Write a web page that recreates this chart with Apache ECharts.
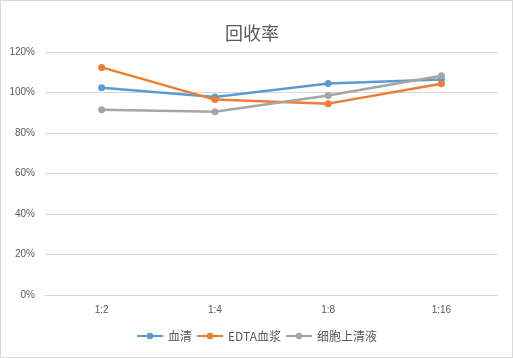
<!DOCTYPE html>
<html><head><meta charset="utf-8">
<script src="https://cdn.jsdelivr.net/npm/echarts@6/dist/echarts.min.js"></script>
<style>html,body{margin:0;padding:0;background:#fff}#c{width:511px;height:356px;border:1px solid #d9d9d9}</style>
</head><body><div id="c"></div>
<script>
const categories = ['1:2','1:4','1:8','1:16'];
const serum = [102.4, 97.8, 104.4, 106.4];
const edta = [112.4, 96.5, 94.5, 104.3];
const cellSup = [91.5, 90.5, 98.5, 108.3];
const seriesNames = ['血清','EDTA血浆','细胞上清液'];
const colors = ['#5B9BD5','#ED7D31','#A5A5A5'];
const chart = echarts.init(document.getElementById('c'));
const font = '"Microsoft YaHei","Noto Sans CJK SC",sans-serif';
function mk(name, data, color){
  return {name, type:'line', data, symbol:'circle', symbolSize:7,
    lineStyle:{width:2.5,color}, itemStyle:{color}};
}
chart.setOption({
  animation:false,
  color:colors,
  title:{text:'回收率', left:219, top:18, textStyle:{fontSize:18,fontWeight:'normal',color:'#595959',fontFamily:font}},
  grid:{left:44, right:14, top:51, bottom:62},
  xAxis:{type:'category', data:categories, boundaryGap:true,
    axisLine:{lineStyle:{color:'#d9d9d9'}}, axisTick:{show:false},
    axisLabel:{color:'#595959', fontSize:10, margin:10, fontFamily:'Liberation Sans, sans-serif'}},
  yAxis:{type:'value', min:0, max:120, interval:20,
    axisLabel:{formatter:'{value}%', color:'#595959', fontSize:10, margin:10, fontFamily:'Liberation Sans, sans-serif'},
    splitLine:{lineStyle:{color:'#d9d9d9'}}, axisLine:{show:false}, axisTick:{show:false}},
  legend:{bottom:10, left:'center', itemWidth:26, itemHeight:8, itemGap:4,
    textStyle:{color:'#595959', fontSize:12, fontFamily:font},
    data:seriesNames},
  series:[mk(seriesNames[0],serum,colors[0]), mk(seriesNames[1],edta,colors[1]), mk(seriesNames[2],cellSup,colors[2])]
});
</script></body></html>
